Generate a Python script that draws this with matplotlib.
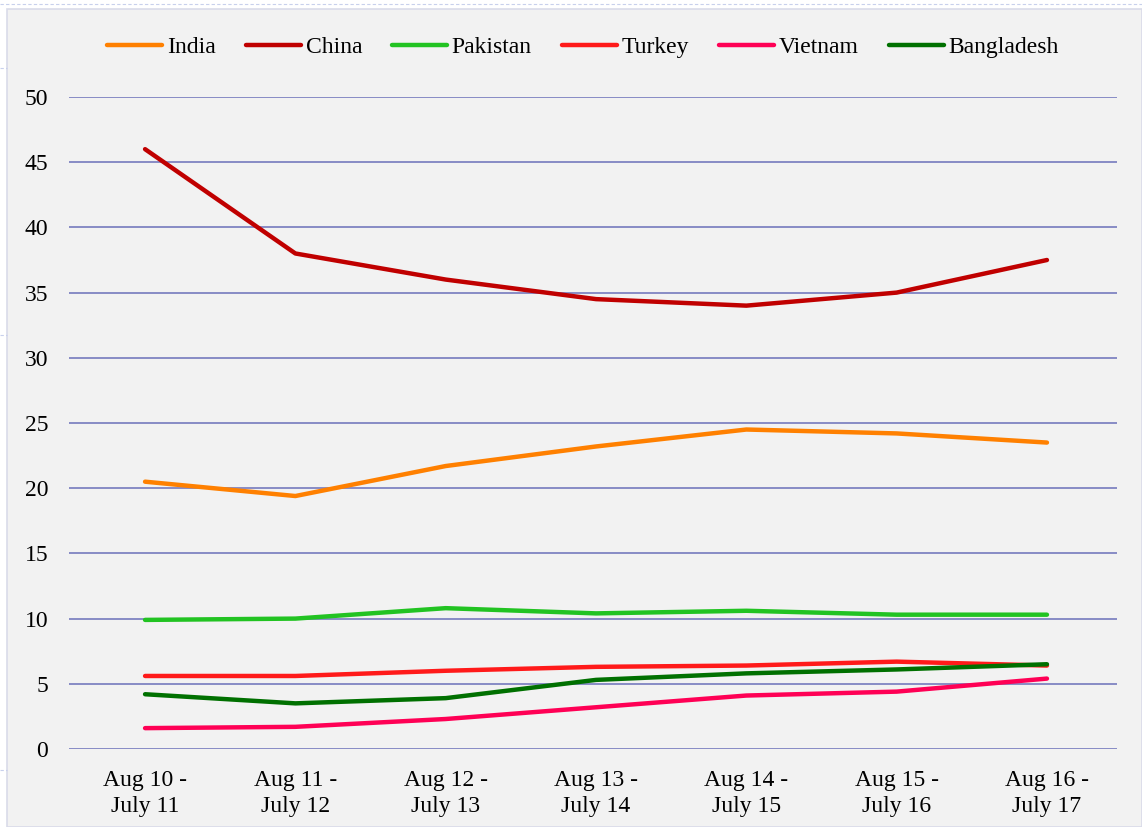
import matplotlib
matplotlib.use("Agg")
import matplotlib.pyplot as plt
from matplotlib.patches import Rectangle

categories = ["Aug 10 -\nJuly 11", "Aug 11 -\nJuly 12", "Aug 12 -\nJuly 13", "Aug 13 -\nJuly 14",
              "Aug 14 -\nJuly 15", "Aug 15 -\nJuly 16", "Aug 16 -\nJuly 17"]
india = [20.5, 19.4, 21.7, 23.2, 24.5, 24.2, 23.5]
china = [46.0, 38.0, 36.0, 34.5, 34.0, 35.0, 37.5]
pakistan = [9.9, 10.0, 10.8, 10.4, 10.6, 10.3, 10.3]
turkey = [5.6, 5.6, 6.0, 6.3, 6.4, 6.7, 6.4]
vietnam = [1.6, 1.7, 2.3, 3.2, 4.1, 4.4, 5.4]
bangladesh = [4.2, 3.5, 3.9, 5.3, 5.8, 6.1, 6.5]
yticks = [0, 5, 10, 15, 20, 25, 30, 35, 40, 45, 50]

series = [
    ("India", india, "#ff8000"),
    ("China", china, "#c00000"),
    ("Pakistan", pakistan, "#22c322"),
    ("Turkey", turkey, "#ff1a1a"),
    ("Vietnam", vietnam, "#ff0055"),
    ("Bangladesh", bangladesh, "#007000"),
]

plt.rcParams['font.family'] = ['Liberation Serif', 'DejaVu Serif']

fig = plt.figure(figsize=(11.42, 8.27), dpi=100)
fig.patch.set_facecolor("white")
# dashed spreadsheet grid outside the chart panel
fig.add_artist(plt.Line2D([0, 1], [1 - 4 / 827, 1 - 4 / 827], transform=fig.transFigure,
                          color="#c8d0ec", lw=0.8, ls=(0, (3, 2))))
for yy in [68, 335, 770]:
    fig.add_artist(plt.Line2D([0, 7 / 1142], [1 - yy / 827, 1 - yy / 827], transform=fig.transFigure,
                              color="#c8d0ec", lw=0.8, ls=(0, (3, 2))))
panel = Rectangle((7 / 1142, 0), 1 - 7 / 1142, 1 - 9 / 827, transform=fig.transFigure,
                  facecolor="#f2f2f2", edgecolor="#d9dbe9", lw=1.2, zorder=0)
fig.add_artist(panel)

ax = fig.add_axes([69 / 1142, 1 - 749 / 827, (1117 - 69) / 1142, (749 - 97) / 827])
ax.set_facecolor("none")
x = list(range(len(categories)))
for name, vals, col in series:
    ax.plot(x, vals, color=col, lw=3.2, label=name, solid_capstyle="round",
            solid_joinstyle="round", zorder=3)

ax.set_ylim(0, 50)
ax.set_xlim(-0.506, 6.466)
ax.set_yticks(yticks)
ax.set_xticks(x)
ax.set_xticklabels(categories, fontsize=17, linespacing=1.35)
ax.tick_params(axis="y", labelsize=17, length=0, pad=15)
ax.tick_params(axis="x", length=0, pad=15)
ax.grid(axis="y", color="#7f84c2", lw=1.3, zorder=1)
ax.set_axisbelow(True)
for s in ax.spines.values():
    s.set_visible(False)

fig.legend(loc="center", bbox_to_anchor=(0.5105, 1 - 47 / 827), ncol=6, frameon=False,
           fontsize=17, handlelength=2.33, handletextpad=0.2, columnspacing=1.27)

fig.savefig("out.png", dpi=100)
